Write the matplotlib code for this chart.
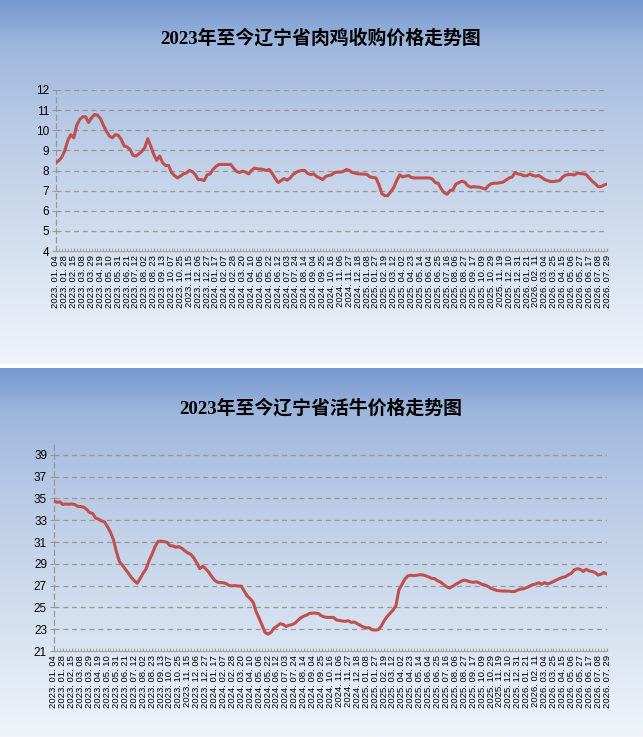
import numpy as np
import matplotlib
matplotlib.use("Agg")
import matplotlib.pyplot as plt

plt.rcParams['font.family'] = ['Liberation Sans', 'Noto Sans CJK SC', 'DejaVu Sans']

# tick labels (every third week)
tick_labels = [
    '2023.01.04', '2023.01.28', '2023.02.15', '2023.03.08', '2023.03.29', '2023.04.19',
    '2023.05.10', '2023.05.31', '2023.06.21', '2023.07.12', '2023.08.02', '2023.08.23',
    '2023.09.13', '2023.10.07', '2023.10.25', '2023.11.15', '2023.12.06', '2023.12.27',
    '2024.01.17', '2024.02.07', '2024.02.28', '2024.03.20', '2024.04.10', '2024.05.06',
    '2024.05.22', '2024.06.12', '2024.07.03', '2024.07.24', '2024.08.14', '2024.09.04',
    '2024.09.25', '2024.10.16', '2024.11.06', '2024.11.27', '2024.12.18', '2025.01.08',
    '2025.01.27', '2025.02.19', '2025.03.12', '2025.04.02', '2025.04.23', '2025.05.14',
    '2025.06.04', '2025.06.25', '2025.07.16', '2025.08.06', '2025.08.27', '2025.09.17',
    '2025.10.09', '2025.10.29', '2025.11.19', '2025.12.10', '2025.12.31', '2026.01.21',
    '2026.02.11', '2026.03.04', '2026.03.25', '2026.04.15', '2026.05.06', '2026.05.27',
    '2026.06.17', '2026.07.08', '2026.07.29']

# weekly broiler purchase price
chicken = [
    8.38, 8.5, 8.67, 9.0, 9.5, 9.78, 9.62, 10.25, 10.53, 10.67,
    10.67, 10.38, 10.62, 10.78, 10.75, 10.58, 10.25, 9.95, 9.72, 9.62,
    9.78, 9.75, 9.55, 9.22, 9.17, 9.05, 8.75, 8.72, 8.83, 8.95,
    9.15, 9.58, 9.2, 8.8, 8.5, 8.72, 8.38, 8.25, 8.25, 7.9,
    7.75, 7.63, 7.72, 7.83, 7.88, 8.0, 7.95, 7.8, 7.55, 7.55,
    7.5, 7.78, 7.83, 8.05, 8.2, 8.3, 8.3, 8.3, 8.3, 8.3,
    8.1, 7.95, 7.9, 7.97, 7.92, 7.83, 8.0, 8.12, 8.08, 8.07,
    8.05, 8.0, 8.05, 7.85, 7.6, 7.4, 7.5, 7.6, 7.52, 7.62,
    7.8, 7.9, 7.97, 8.0, 8.0, 7.85, 7.8, 7.83, 7.7, 7.63,
    7.55, 7.7, 7.75, 7.78, 7.9, 7.92, 7.92, 7.95, 8.05, 8.0,
    7.9, 7.87, 7.83, 7.83, 7.82, 7.8, 7.68, 7.65, 7.63, 7.3,
    6.85, 6.75, 6.75, 6.95, 7.15, 7.5, 7.78, 7.68, 7.72, 7.75,
    7.65, 7.63, 7.63, 7.63, 7.63, 7.63, 7.63, 7.58, 7.4, 7.37,
    7.1, 6.9, 6.82, 7.0, 7.05, 7.33, 7.4, 7.47, 7.42, 7.25,
    7.17, 7.2, 7.18, 7.17, 7.12, 7.08, 7.25, 7.35, 7.37, 7.37,
    7.4, 7.43, 7.53, 7.63, 7.68, 7.9, 7.83, 7.8, 7.73, 7.75,
    7.82, 7.75, 7.72, 7.75, 7.65, 7.55, 7.5, 7.45, 7.45, 7.48,
    7.5, 7.67, 7.77, 7.8, 7.8, 7.78, 7.87, 7.85, 7.83, 7.8,
    7.63, 7.47, 7.35, 7.2, 7.2, 7.28, 7.33]

# weekly live cattle price
cattle = [
    34.77, 34.65, 34.68, 34.45, 34.5, 34.47, 34.5, 34.44, 34.28, 34.25,
    34.2, 34.0, 33.7, 33.62, 33.2, 33.1, 32.94, 32.85, 32.4, 31.9,
    31.2, 30.1, 29.2, 28.88, 28.5, 28.15, 27.75, 27.45, 27.22, 27.67,
    28.15, 28.55, 29.3, 29.9, 30.6, 31.05, 31.08, 31.04, 30.98, 30.67,
    30.64, 30.52, 30.58, 30.42, 30.2, 30.0, 29.88, 29.55, 29.1, 28.56,
    28.78, 28.55, 28.25, 27.85, 27.5, 27.32, 27.27, 27.27, 27.17, 27.0,
    26.98, 27.0, 26.96, 26.96, 26.5, 26.05, 25.8, 25.46, 24.6, 24.0,
    23.35, 22.7, 22.55, 22.72, 23.1, 23.28, 23.5, 23.45, 23.25, 23.35,
    23.42, 23.55, 23.8, 24.05, 24.2, 24.3, 24.45, 24.48, 24.48, 24.43,
    24.22, 24.12, 24.08, 24.08, 24.08, 23.85, 23.8, 23.75, 23.72, 23.78,
    23.62, 23.66, 23.5, 23.35, 23.2, 23.13, 23.13, 22.95, 22.92, 22.95,
    23.25, 23.75, 24.15, 24.45, 24.75, 25.15, 26.6, 27.1, 27.6, 27.9,
    27.95, 27.91, 27.95, 28.0, 27.98, 27.91, 27.8, 27.67, 27.64, 27.45,
    27.33, 27.12, 26.9, 26.78, 26.92, 27.1, 27.25, 27.42, 27.5, 27.44,
    27.35, 27.3, 27.35, 27.25, 27.12, 27.05, 26.92, 26.75, 26.65, 26.55,
    26.52, 26.5, 26.5, 26.5, 26.45, 26.47, 26.6, 26.68, 26.72, 26.82,
    26.96, 27.08, 27.15, 27.27, 27.12, 27.28, 27.15, 27.25, 27.38, 27.5,
    27.65, 27.75, 27.82, 28.0, 28.13, 28.44, 28.55, 28.5, 28.3, 28.5,
    28.35, 28.3, 28.2, 27.97, 28.05, 28.2, 28.07]

title1 = '2023年至今辽宁省肉鸡收购价格走势图'
title2 = '2023年至今辽宁省活牛价格走势图'

W, H = 643, 737
fig = plt.figure(figsize=(W / 100, H / 100), dpi=100)
fig.patch.set_facecolor('white')

# gradient backgrounds of the two panels
bg = fig.add_axes([0, 0, 1, 1])
bg.axis('off')
stops = [0.0, 0.12, 0.35, 0.7, 1.0]
cols = np.array([[116, 152, 208], [158, 183, 221], [186, 203, 230],
                 [214, 225, 240], [240, 244, 250]]) / 255.0


def gradient(y0, y1):
    t = np.linspace(0, 1, 200)
    img = np.zeros((200, 1, 3))
    for c in range(3):
        img[:, 0, c] = np.interp(t, stops, cols[:, c])
    bg.imshow(img, extent=[0, W, y1, y0], aspect='auto', interpolation='bilinear')


gradient(0, 364)
gradient(368, 737)
bg.set_xlim(0, W)
bg.set_ylim(H, 0)

x = np.arange(len(chicken))
red = '#C0504D'
grid_col = '#989898'


def setup(ax, yticks, ylim):
    ax.set_facecolor('none')
    ax.set_xlim(0, len(x) - 1)
    ax.set_ylim(*ylim)
    ax.set_yticks(yticks)
    ax.set_yticklabels([str(v) for v in yticks], fontsize=8.5)
    for v in yticks[1:]:
        ax.axhline(v, color=grid_col, lw=0.9, ls=(0, (4, 3)), zorder=1)
    for s in ['top', 'right']:
        ax.spines[s].set_visible(False)
    ax.spines['left'].set_color(grid_col)
    ax.spines['left'].set_linestyle((0, (4, 3)))
    ax.spines['left'].set_linewidth(0.9)
    ax.spines['bottom'].set_color('#a0a0a0')
    ax.spines['bottom'].set_linewidth(0.9)
    ax.set_xticks(np.arange(0, len(x), 3))
    ax.set_xticklabels([s.replace('.', '. ') for s in tick_labels],
                       rotation=90, fontsize=6.8)
    ax.set_xticks(x, minor=True)
    ax.tick_params(axis='x', which='both', direction='in', length=2.5,
                   color='#a0a0a0', pad=3)
    ax.tick_params(axis='y', length=3, color=grid_col, pad=2)


ax1 = fig.add_axes([56 / W, 1 - 251 / H, 551 / W, 161 / H])
setup(ax1, list(range(4, 13)), (4, 12))
ax1.plot(x, chicken, color=red, lw=2.2, zorder=3, solid_joinstyle='round')

ax2 = fig.add_axes([54 / W, 1 - 651 / H, 553 / W, 207 / H])
setup(ax2, list(range(21, 40, 2)), (21, 40))
ax2.plot(x, cattle, color=red, lw=2.2, zorder=3, solid_joinstyle='round')

fig.text(321 / W, 1 - 38 / H, title1, ha='center', va='center', fontsize=13.6,
         fontweight='bold', family=['Liberation Serif', 'Noto Sans CJK SC'])
fig.text(321 / W, 1 - 408 / H, title2, ha='center', va='center', fontsize=13.6,
         fontweight='bold', family=['Liberation Serif', 'Noto Sans CJK SC'])

fig.savefig('out.png', dpi=100)
